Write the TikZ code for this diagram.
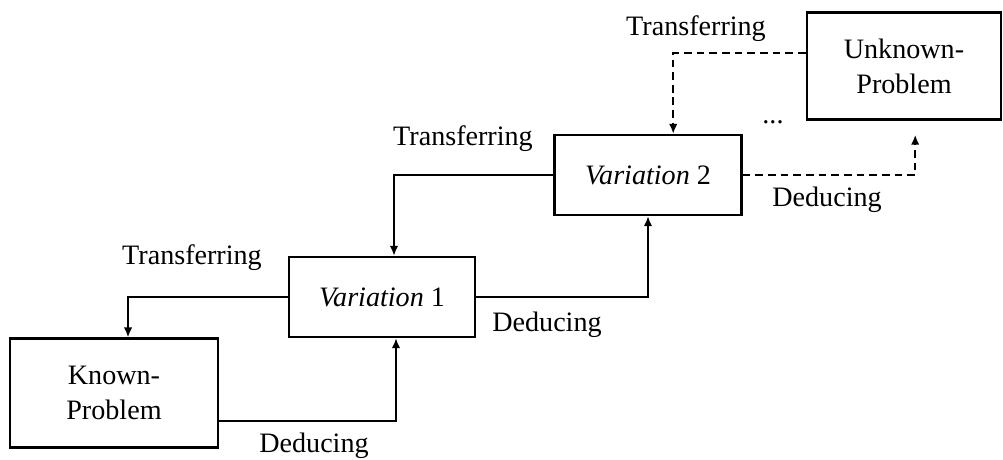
\documentclass[tikz,border=0pt]{standalone}
\usepackage{fontspec}
\setmainfont{Liberation Serif}
\usepackage{tikz}
\usetikzlibrary{arrows.meta,positioning,calc}

\begin{document}
\begin{tikzpicture}[
        x=0.025cm, y=-0.025cm,
        every node/.style={font=\fontsize{20}{25}\selectfont},
        box/.style={draw, rectangle, line width=1.8pt, align=center, inner sep=0pt},
        arrow/.style={-{Latex[length=7pt,width=6pt]}, line width=1.2pt},
        dasharrow/.style={arrow, dash pattern=on 5.5pt off 3.5pt},
        lbl/.style={inner sep=0pt}
    ]
        \useasboundingbox (0,0) rectangle (1003,459);

        % Problemas e variacoes
        \node[box, minimum width=5.2cm, minimum height=2.72cm] (known) at (114,393) {Known-\\Problem};
        \node[box, minimum width=4.65cm, minimum height=2cm] (var1) at (382,297) {\textit{Variation} 1};
        \node[box, minimum width=4.67cm, minimum height=2cm] (var2) at (648,175) {\textit{Variation} 2};
        \node[box, minimum width=4.85cm, minimum height=2.68cm] (unknown) at (904,66) {Unknown-\\Problem};
        \node[lbl] (dots) at (773,122) {...};

        % Rotulos
        \node[lbl] (tr1) at (192,258) {Transferring};
        \node[lbl] (tr2) at (463,139) {Transferring};
        \node[lbl] (tr3) at (696,29) {Transferring};
        \node[lbl] (de1) at (314,446) {Deducing};
        \node[lbl] (de2) at (547,325) {Deducing};
        \node[lbl] (de3) at (827,200) {Deducing};

        % Conexoes
        \draw[arrow] ([yshift=-0.7cm]known.east) -| ([xshift=0.35cm]var1.south);
        \draw[arrow] (var1.west) -| ([xshift=0.35cm]known.north);
        \draw[arrow] (var1.east) -| (var2.south);
        \draw[arrow] (var2.west) -| ([xshift=0.3cm]var1.north);

        % Tracejadas
        \draw[dasharrow] (var2.east) -| ([xshift=0.28cm, yshift=-0.35cm]unknown.south);
        \draw[dasharrow] ([yshift=0.33cm]unknown.west) -| ([xshift=0.63cm]var2.north);
    \end{tikzpicture}
\end{document}
